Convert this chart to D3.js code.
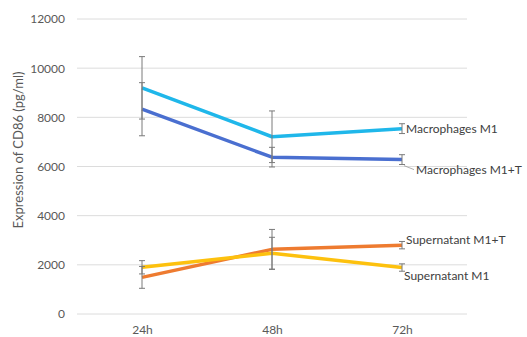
<!DOCTYPE html>
<html>
<head>
<meta charset="utf-8">
<script src="https://cdn.jsdelivr.net/npm/d3@7"></script>
<style>
  body { margin: 0; background: #fff; overflow: hidden; }
  text { font-family: Lato, "Open Sans", sans-serif; }
</style>
</head>
<body>
<svg></svg>
<script>
// datos del gráfico
let categorias = ["24h", "48h", "72h"];
let yTicks = [0, 2000, 4000, 6000, 8000, 10000, 12000];

let macM1 = [9200, 7210, 7540];
let macM1T = [8330, 6380, 6280];
let supM1T = [1490, 2630, 2800];
let supM1 = [1900, 2470, 1890];

let errMacM1 = [1270, 1050, 200];
let errMacM1T = [1080, 400, 200];
let errSupM1T = [445, 810, 150];
let errSupM1 = [270, 650, 150];

let nombres = ["Macrophages M1", "Macrophages M1+T", "Supernatant M1+T", "Supernatant M1"];

let series = [
  { name: nombres[0], vals: macM1, err: errMacM1, color: "#1fb7ea", dx: 4, dy: 0 },
  { name: nombres[1], vals: macM1T, err: errMacM1T, color: "#4a6fd0", dx: 14, dy: 10 },
  { name: nombres[2], vals: supM1T, err: errSupM1T, color: "#ee7b30", dx: 4, dy: -5 },
  { name: nombres[3], vals: supM1, err: errSupM1, color: "#fdc10e", dx: 2, dy: 8 }
];

let svgWidth = 527;
let svgHeight = 337;

let svg = d3.select("svg")
  .attr("width", svgWidth)
  .attr("height", svgHeight);

let x = d3.scalePoint()
  .domain(categorias)
  .range([142, 402]);

let y = d3.scaleLinear()
  .domain([0, 12000])
  .range([314, 19]);

// rejilla horizontal
svg.selectAll(".grid")
  .data(yTicks)
  .enter()
  .append("line")
  .attr("x1", 77)
  .attr("x2", 467)
  .attr("y1", d => y(d))
  .attr("y2", d => y(d))
  .attr("stroke", "#dcdcdc")
  .attr("stroke-width", 1);

// eje y
let ejeY = svg.append("g")
  .attr("transform", "translate(71,0)")
  .call(d3.axisLeft(y).tickValues(yTicks).tickFormat(d3.format("d")).tickSize(0).tickPadding(6));
ejeY.select(".domain").remove();
ejeY.selectAll("text")
  .attr("fill", "#595959")
  .style("font-size", "12px");

// eje x
let ejeX = svg.append("g")
  .attr("transform", "translate(0,321)")
  .call(d3.axisBottom(x).tickSize(0).tickPadding(4));
ejeX.select(".domain").remove();
ejeX.selectAll("text")
  .attr("fill", "#595959")
  .style("font-size", "12px");

// título del eje y
svg.append("text")
  .attr("transform", "translate(23,150) rotate(-90)")
  .attr("text-anchor", "middle")
  .attr("fill", "#595959")
  .style("font-size", "13px")
  .text("Expression of CD86 (pg/ml)");

let linea = d3.line()
  .x((d, i) => x(categorias[i]))
  .y(d => y(d));

// líneas
series.forEach(s => {
  svg.append("path")
    .datum(s.vals)
    .attr("d", linea)
    .attr("fill", "none")
    .attr("stroke", s.color)
    .attr("stroke-width", 3.5)
    .attr("stroke-linejoin", "round");
});

// barras de error
series.forEach(s => {
  let g = svg.append("g");
  s.vals.forEach((v, i) => {
    let cx = x(categorias[i]);
    let top = y(v + s.err[i]);
    let bot = y(v - s.err[i]);
    g.append("line").attr("x1", cx).attr("x2", cx).attr("y1", top).attr("y2", bot);
    g.append("line").attr("x1", cx - 3).attr("x2", cx + 3).attr("y1", top).attr("y2", top);
    g.append("line").attr("x1", cx - 3).attr("x2", cx + 3).attr("y1", bot).attr("y2", bot);
  });
  g.selectAll("line").attr("stroke", "#7a7a7a").attr("stroke-width", 1);
});

// etiquetas de series
series.forEach(s => {
  let last = s.vals.length - 1;
  let lx = x(categorias[last]);
  let ly = y(s.vals[last]);
  if (s.dx > 10) {
    svg.append("line")
      .attr("x1", lx + 2).attr("x2", lx + s.dx - 2)
      .attr("y1", ly + 6).attr("y2", ly + s.dy)
      .attr("stroke", "#999").attr("stroke-width", 0.8);
  }
  svg.append("text")
    .attr("x", lx + s.dx)
    .attr("y", ly + s.dy)
    .attr("dy", "0.35em")
    .attr("fill", "#404040")
    .style("font-size", "12px")
    .text(s.name);
});
</script>
</body>
</html>
